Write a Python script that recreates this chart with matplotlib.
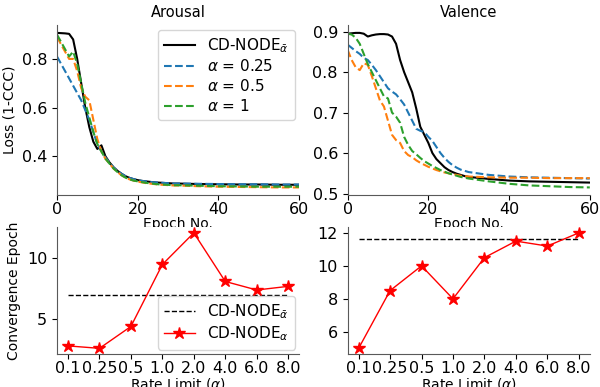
import matplotlib
matplotlib.use('Agg')
import matplotlib.pyplot as plt

# epochs at which the loss curves are sampled
epochs = list(range(0, 31)) + [35, 40, 45, 50, 55, 60]

# Arousal loss (1-CCC)
aro_bar = [0.907, 0.906, 0.905, 0.903, 0.88, 0.80, 0.70, 0.60, 0.52, 0.46, 0.43, 0.445, 0.40,
           0.375, 0.355, 0.34, 0.328, 0.318, 0.311, 0.306, 0.302, 0.299, 0.297, 0.295, 0.293,
           0.292, 0.291, 0.290, 0.289, 0.288, 0.288, 0.286, 0.285, 0.284, 0.284, 0.283, 0.283]
aro_025 = [0.81, 0.78, 0.75, 0.72, 0.69, 0.66, 0.63, 0.59, 0.55, 0.50, 0.45, 0.42, 0.395,
           0.375, 0.355, 0.34, 0.328, 0.318, 0.311, 0.306, 0.302, 0.299, 0.297, 0.295, 0.293,
           0.292, 0.291, 0.290, 0.289, 0.288, 0.288, 0.287, 0.286, 0.285, 0.285, 0.284, 0.284]
aro_05 = [0.89, 0.86, 0.83, 0.80, 0.80, 0.75, 0.68, 0.645, 0.63, 0.55, 0.47, 0.42, 0.39,
          0.37, 0.35, 0.335, 0.322, 0.312, 0.305, 0.300, 0.296, 0.293, 0.290, 0.288, 0.286,
          0.284, 0.283, 0.282, 0.281, 0.280, 0.280, 0.277, 0.275, 0.274, 0.273, 0.272, 0.272]
aro_1 = [0.90, 0.87, 0.84, 0.81, 0.83, 0.78, 0.70, 0.62, 0.56, 0.50, 0.45, 0.42, 0.39,
         0.37, 0.35, 0.335, 0.322, 0.312, 0.305, 0.300, 0.297, 0.294, 0.291, 0.289, 0.287,
         0.285, 0.284, 0.283, 0.282, 0.281, 0.281, 0.279, 0.277, 0.276, 0.275, 0.275, 0.275]

# Valence loss (1-CCC)
val_bar = [0.895, 0.896, 0.897, 0.897, 0.895, 0.888, 0.891, 0.893, 0.894, 0.894, 0.893, 0.888,
           0.87, 0.83, 0.80, 0.775, 0.75, 0.71, 0.665, 0.645, 0.625, 0.60, 0.585, 0.575, 0.565,
           0.558, 0.553, 0.549, 0.546, 0.543, 0.541, 0.536, 0.532, 0.530, 0.529, 0.528, 0.527]
val_025 = [0.868, 0.86, 0.852, 0.845, 0.835, 0.83, 0.818, 0.805, 0.79, 0.775, 0.76, 0.752,
           0.745, 0.733, 0.72, 0.70, 0.68, 0.66, 0.655, 0.652, 0.64, 0.63, 0.615, 0.60, 0.588,
           0.578, 0.57, 0.564, 0.559, 0.556, 0.553, 0.546, 0.542, 0.540, 0.539, 0.538, 0.537]
val_05 = [0.855, 0.83, 0.812, 0.805, 0.822, 0.818, 0.79, 0.76, 0.73, 0.715, 0.68, 0.645,
          0.632, 0.625, 0.605, 0.595, 0.59, 0.582, 0.576, 0.571, 0.566, 0.562, 0.558, 0.555,
          0.552, 0.55, 0.548, 0.546, 0.544, 0.543, 0.542, 0.540, 0.539, 0.539, 0.538, 0.538, 0.538]
val_1 = [0.895, 0.893, 0.885, 0.87, 0.845, 0.82, 0.80, 0.78, 0.76, 0.74, 0.735, 0.70, 0.69,
         0.675, 0.64, 0.62, 0.605, 0.597, 0.588, 0.58, 0.574, 0.568, 0.563, 0.558, 0.554,
         0.55, 0.547, 0.544, 0.541, 0.539, 0.537, 0.530, 0.524, 0.520, 0.518, 0.516, 0.515]

# convergence epoch vs rate limit
rates = ['0.1', '0.25', '0.5', '1.0', '2.0', '4.0', '6.0', '8.0']
conv_aro = [2.8, 2.6, 4.4, 9.5, 12.1, 8.1, 7.4, 7.7]
conv_val = [5.0, 8.5, 10.0, 8.0, 10.5, 11.5, 11.2, 12.0]
conv_aro_bar = 7.0
conv_val_bar = 11.6

plt.rcParams['font.size'] = 10
plt.rcParams['xtick.labelsize'] = 11.5
plt.rcParams['ytick.labelsize'] = 11.5
plt.rcParams['xtick.major.pad'] = 1.5
plt.rcParams['axes.edgecolor'] = '0.35'
fig, axs = plt.subplots(2, 2, figsize=(6, 3.87), dpi=100,
                        gridspec_kw={'height_ratios': [170, 127]})
fig.subplots_adjust(left=0.095, right=0.983, top=0.935, bottom=0.085,
                    wspace=0.2, hspace=0.215)

lbl_bar = r'CD-NODE$_{\bar{\alpha}}$'
for ax, title, curves in ((axs[0, 0], 'Arousal', (aro_bar, aro_025, aro_05, aro_1)),
                          (axs[0, 1], 'Valence', (val_bar, val_025, val_05, val_1))):
    ax.plot(epochs, curves[0], color='k', lw=1.5, label=lbl_bar)
    ax.plot(epochs, curves[1], '--', color='tab:blue', lw=1.5, label=r'$\alpha$ = 0.25')
    ax.plot(epochs, curves[2], '--', color='tab:orange', lw=1.5, label=r'$\alpha$ = 0.5')
    ax.plot(epochs, curves[3], '--', color='tab:green', lw=1.5, label=r'$\alpha$ = 1')
    ax.set_xlim(0, 60)
    ax.set_title(title, fontsize=10.5)
    ax.set_xlabel('Epoch No.', labelpad=0)

axs[0, 0].set_ylabel('Loss (1-CCC)')
axs[0, 0].set_yticks([0.4, 0.6, 0.8])
axs[0, 0].legend(loc='upper right', fontsize=11, labelspacing=0.25, borderaxespad=0.3)

x = range(len(rates))
for ax, conv, bar in ((axs[1, 0], conv_aro, conv_aro_bar),
                      (axs[1, 1], conv_val, conv_val_bar)):
    ax.hlines(bar, 0, len(rates) - 1, colors='k', linestyles='--', lw=1, label=lbl_bar)
    ax.plot(x, conv, '-*', color='r', lw=1, markersize=9, label=r'CD-NODE$_{\alpha}$')
    ax.set_xticks(list(x))
    ax.set_xticklabels(rates)
    ax.set_xlabel(r'Rate Limit ($\alpha$)', labelpad=0)

axs[1, 0].set_ylabel('Convergence Epoch')
axs[1, 0].set_yticks([5, 10])
axs[1, 1].set_yticks([6, 8, 10, 12])
axs[1, 0].legend(loc='lower right', fontsize=11, labelspacing=0.25, borderaxespad=0.3)

for ax in axs.flat:
    ax.spines['top'].set_visible(False)
    ax.spines['right'].set_visible(False)

fig.savefig('out.png', dpi=100)
